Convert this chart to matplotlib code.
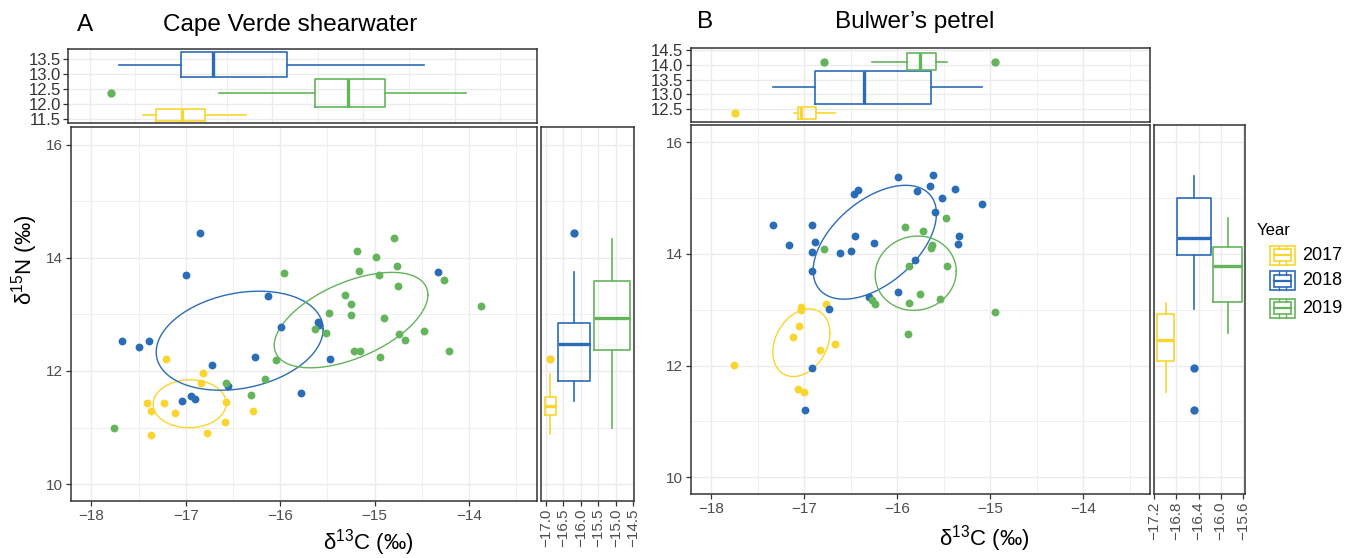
import numpy as np
import matplotlib
matplotlib.use("Agg")
import matplotlib.pyplot as plt
from matplotlib.ticker import MultipleLocator, FuncFormatter, NullLocator
from matplotlib.patches import Rectangle

plt.rcParams['font.family'] = ['Liberation Sans', 'DejaVu Sans']

years = ['2017', '2018', '2019']
cols = ['#FAD52E', '#2B6CB8', '#63B45B']

# %% Data - Cape Verde shearwater (A)
a17_c = [-17.21, -16.82, -16.84, -17.41, -17.23, -17.37, -17.12, -16.58, -16.29, -16.59, -17.37, -16.78]
a17_n = [12.22, 11.97, 11.79, 11.44, 11.44, 11.30, 11.26, 11.45, 11.30, 11.09, 10.86, 10.91]
a18_c = [-16.85, -17.0, -16.13, -17.68, -17.50, -17.39, -16.72, -16.27, -15.99, -15.60, -15.59,
         -15.47, -15.78, -14.33, -16.55, -16.95, -16.90, -17.04]
a18_n = [14.44, 13.69, 13.32, 12.53, 12.42, 12.53, 12.11, 12.25, 12.78, 12.86, 12.81,
         12.22, 11.61, 13.75, 11.74, 11.56, 11.51, 11.46]
a19_c = [-17.76, -16.57, -16.31, -16.16, -16.05, -15.96, -15.63, -15.52, -15.48, -15.31, -15.25,
         -15.25, -15.19, -15.17, -15.22, -15.16, -14.99, -14.95, -14.94, -14.90, -14.80, -14.76,
         -14.75, -14.74, -14.68, -14.48, -14.26, -14.21, -13.87]
a19_n = [10.99, 11.78, 11.58, 11.85, 12.20, 13.73, 12.74, 12.67, 13.02, 13.35, 13.19,
         12.99, 14.13, 13.76, 12.36, 12.36, 14.01, 13.69, 12.24, 12.94, 14.35, 13.86,
         13.51, 12.66, 12.54, 12.71, 13.61, 12.36, 13.15]
# ellipse: centre C, centre N, half width, half height, correlation
a_ell = [[-16.96, 11.42, 0.387, 0.424, 0.02],
         [-16.43, 12.535, 0.884, 0.876, 0.23],
         [-15.25, 12.90, 0.814, 0.844, 0.53]]

# marginal boxplots: whislo, q1, med, q3, whishi
a_top_box = [[-17.42, -17.27, -16.985, -16.735, -16.29],
             [-17.675, -17.0, -16.645, -15.835, -14.334],
             [-16.58, -15.53, -15.17, -14.76, -13.874]]
a_top_out = [[], [], [-17.77]]
a_top_pos = [11.65, 13.315, 12.37]
a_top_wid = [0.38, 0.81, 0.92]

a_side_box = [[10.88, 11.22, 11.375, 11.54, 11.95],
              [11.465, 11.83, 12.47, 12.85, 13.75],
              [10.99, 12.365, 12.93, 13.6, 14.34]]
a_side_out = [[12.22], [14.44], []]
a_side_pos = [-16.87, -16.20, -15.11]
a_side_wid = [0.306, 0.914, 1.03]

# %% Data - Bulwer's petrel (B)
b17_c = [-17.75, -17.03, -17.03, -16.77, -17.06, -17.12, -16.83, -16.67, -17.07, -17.0]
b17_n = [12.01, 13.05, 13.00, 13.11, 12.71, 12.51, 12.28, 12.38, 11.58, 11.52]
b18_c = [-17.33, -17.16, -16.91, -16.88, -16.91, -16.91, -16.61, -16.50, -16.45, -16.46,
         -16.42, -16.25, -15.99, -15.79, -15.65, -15.61, -15.52, -15.59, -15.38, -15.09,
         -15.33, -15.34, -15.81, -15.99, -16.30, -16.73, -16.91, -16.99]
b18_n = [14.52, 14.16, 14.52, 14.22, 14.03, 13.70, 14.02, 14.06, 14.33, 15.07,
         15.14, 14.19, 15.37, 15.13, 15.21, 15.41, 15.00, 14.75, 15.16, 14.90,
         14.32, 14.17, 13.89, 13.31, 13.23, 13.01, 11.96, 11.20]
b19_c = [-16.79, -15.91, -15.72, -15.47, -15.64, -15.62, -15.87, -15.46, -15.75, -15.87,
         -15.54, -16.27, -16.24, -15.88, -14.95]
b19_n = [14.08, 14.49, 14.42, 14.64, 14.10, 14.16, 13.79, 13.78, 13.29, 13.12,
         13.20, 13.17, 13.11, 12.57, 12.96]
b_ell = [[-17.03, 12.41, 0.307, 0.606, 0.28],
         [-16.24, 14.21, 0.663, 1.02, 0.50],
         [-15.80, 13.655, 0.436, 0.666, 0.05]]

b_top_box = [[-17.108, -17.068, -17.036, -16.871, -16.67],
             [-17.33, -16.882, -16.358, -15.634, -15.09],
             [-16.265, -15.892, -15.753, -15.58, -15.466]]
b_top_out = [[-17.745], [], [-16.79, -14.95]]
b_top_pos = [12.375, 13.235, 14.11]
b_top_wid = [0.42, 1.11, 0.56]

b_side_box = [[11.53, 12.09, 12.45, 12.93, 13.115],
              [13.02, 13.98, 14.28, 15.01, 15.40],
              [12.58, 13.14, 13.79, 14.13, 14.64]]
b_side_out = [[], [11.96, 11.20], []]
b_side_pos = [-16.993, -16.49, -15.87]
b_side_wid = [0.306, 0.613, 0.52]

W, H = 1349, 558
fig = plt.figure(figsize=(W / 100, H / 100), dpi=100)

def px_axes(x0, y0, x1, y1):
    return fig.add_axes([x0 / W, 1 - y1 / H, (x1 - x0) / W, (y1 - y0) / H])

def minus(v, p):
    return f'{v:.1f}'.replace('-', '\u2212')

def style(ax):
    for s in ax.spines.values():
        s.set_color('#333333')
        s.set_linewidth(1.1)
    ax.set_axisbelow(True)
    ax.grid(True, which='major', color='#EBEBEB', lw=1.0)
    ax.grid(True, which='minor', color='#EFEFEF', lw=0.7)
    ax.tick_params(which='major', length=3.5, width=0.9, color='#333333',
                   labelcolor='#4D4D4D', labelsize=11, pad=2)
    ax.tick_params(which='minor', length=0)

def main_panel(ax, cs, ns, ells):
    for i in range(3):
        ax.scatter(cs[i], ns[i], s=32, color=cols[i], lw=0, zorder=3)
        cx, cy, a, b, r = ells[i]
        t = np.linspace(0, 2 * np.pi, 300)
        ax.plot(cx + a * np.cos(t), cy + b * (r * np.cos(t) + np.sqrt(1 - r * r) * np.sin(t)),
                color=cols[i], lw=1.0, zorder=2)
    ax.set_xlim(-18.22, -13.28)
    ax.set_ylim(9.70, 16.31)
    ax.xaxis.set_major_locator(MultipleLocator(1))
    ax.xaxis.set_minor_locator(MultipleLocator(0.5))
    ax.yaxis.set_major_locator(MultipleLocator(2))
    ax.yaxis.set_minor_locator(MultipleLocator(1))
    style(ax)

def boxes(ax, stats, outs, pos, wid, orient):
    for i in range(3):
        st = dict(zip(['whislo', 'q1', 'med', 'q3', 'whishi'], stats[i]))
        st['fliers'] = outs[i]
        c = cols[i]
        ax.bxp([st], positions=[pos[i]], widths=[wid[i]], orientation=orient,
               showcaps=False, manage_ticks=False,
               boxprops=dict(color=c, lw=1.2),
               whiskerprops=dict(color=c, lw=1.2),
               medianprops=dict(color=c, lw=2.4),
               flierprops=dict(marker='o', markerfacecolor=c, markeredgecolor=c,
                               markersize=5))

# %% Panel A
axA = px_axes(70.7, 127.3, 537, 501)
main_panel(axA, [a17_c, a18_c, a19_c], [a17_n, a18_n, a19_n], a_ell)

axAt = px_axes(68.3, 49.3, 537.3, 123.3)
boxes(axAt, a_top_box, a_top_out, a_top_pos, a_top_wid, 'horizontal')
axAt.set_xlim(-18.233, -13.096)
axAt.set_ylim(11.37, 13.82)
axAt.xaxis.set_major_locator(MultipleLocator(1))
axAt.xaxis.set_minor_locator(MultipleLocator(0.5))
axAt.yaxis.set_major_locator(MultipleLocator(0.5))
axAt.yaxis.set_minor_locator(NullLocator())
axAt.yaxis.set_major_formatter(FuncFormatter(minus))
style(axAt)
axAt.tick_params(axis='x', bottom=False, labelbottom=False)
axAt.tick_params(axis='y', labelsize=12, labelcolor='#333333')

axAr = px_axes(540.7, 127.3, 634, 501)
boxes(axAr, a_side_box, a_side_out, a_side_pos, a_side_wid, 'vertical')
axAr.set_xlim(-17.146, -14.48)
axAr.set_ylim(9.70, 16.31)
axAr.xaxis.set_major_locator(MultipleLocator(0.5))
axAr.xaxis.set_minor_locator(NullLocator())
axAr.xaxis.set_major_formatter(FuncFormatter(minus))
axAr.yaxis.set_major_locator(MultipleLocator(2))
axAr.yaxis.set_minor_locator(MultipleLocator(1))
style(axAr)
axAr.tick_params(axis='y', left=False, labelleft=False)
axAr.tick_params(axis='x', labelrotation=90)

# %% Panel B
axB = px_axes(690.7, 125, 1150, 494)
main_panel(axB, [b17_c, b18_c, b19_c], [b17_n, b18_n, b19_n], b_ell)

axBt = px_axes(690.7, 48.3, 1150, 121.7)
boxes(axBt, b_top_box, b_top_out, b_top_pos, b_top_wid, 'horizontal')
axBt.set_xlim(-18.22, -13.28)
axBt.set_ylim(12.07, 14.56)
axBt.xaxis.set_major_locator(MultipleLocator(1))
axBt.xaxis.set_minor_locator(MultipleLocator(0.5))
axBt.yaxis.set_major_locator(MultipleLocator(0.5))
axBt.yaxis.set_minor_locator(NullLocator())
axBt.yaxis.set_major_formatter(FuncFormatter(minus))
style(axBt)
axBt.tick_params(axis='x', bottom=False, labelbottom=False)
axBt.tick_params(axis='y', labelsize=12, labelcolor='#333333')

axBr = px_axes(1154, 125, 1245, 494)
boxes(axBr, b_side_box, b_side_out, b_side_pos, b_side_wid, 'vertical')
axBr.set_xlim(-17.205, -15.56)
axBr.set_ylim(9.70, 16.31)
axBr.xaxis.set_major_locator(MultipleLocator(0.4))
axBr.xaxis.set_minor_locator(NullLocator())
axBr.xaxis.set_major_formatter(FuncFormatter(minus))
axBr.yaxis.set_major_locator(MultipleLocator(2))
axBr.yaxis.set_minor_locator(MultipleLocator(1))
style(axBr)
axBr.tick_params(axis='y', left=False, labelleft=False)
axBr.tick_params(axis='x', labelrotation=90)

# %% Titles and labels
fig.text(77 / W, 1 - 25 / H, 'A', fontsize=17.5, va='center', ha='left')
fig.text(290 / W, 1 - 25 / H, 'Cape Verde shearwater', fontsize=17.5, va='center', ha='center')
fig.text(697 / W, 1 - 22 / H, 'B', fontsize=17.5, va='center', ha='left')
fig.text(915 / W, 1 - 22 / H, 'Bulwer\u2019s petrel', fontsize=17.5, va='center', ha='center')

xlab = r'$\mathregular{\delta^{13}}$C (‰)'
fig.text(368 / W, 1 - 543 / H, xlab, fontsize=16, ha='center', va='center')
fig.text(984 / W, 1 - 539 / H, xlab, fontsize=16, ha='center', va='center')
fig.text(25 / W, 1 - 260 / H, r'$\mathregular{\delta^{15}}$N (‰)', fontsize=16,
         ha='center', va='center', rotation=90)

# %% Legend
lg = px_axes(1250, 215, 1349, 330)
lg.set_xlim(1250, 1349)
lg.set_ylim(330, 215)
lg.axis('off')
lg.text(1257, 230, 'Year', fontsize=12, va='center', ha='left')
key_y = [255, 280.5, 308]
for i in range(3):
    y0 = key_y[i]
    c = cols[i]
    lg.add_patch(Rectangle((1270, y0 - 9.5), 25, 19, fill=False, ec=c, lw=1.2))
    lg.add_patch(Rectangle((1274, y0 - 6), 17, 12, fill=False, ec=c, lw=1.2))
    lg.plot([1274, 1291], [y0, y0], color=c, lw=1.6)
    lg.plot([1279, 1279], [y0 - 9.5, y0 - 6], color=c, lw=1.0)
    lg.plot([1286, 1286], [y0 - 9.5, y0 - 6], color=c, lw=1.0)
    lg.plot([1279, 1279], [y0 + 6, y0 + 9.5], color=c, lw=1.0)
    lg.plot([1286, 1286], [y0 + 6, y0 + 9.5], color=c, lw=1.0)
    lg.text(1302, y0, years[i], fontsize=13, va='center', ha='left')

fig.savefig('out.png', dpi=100)
